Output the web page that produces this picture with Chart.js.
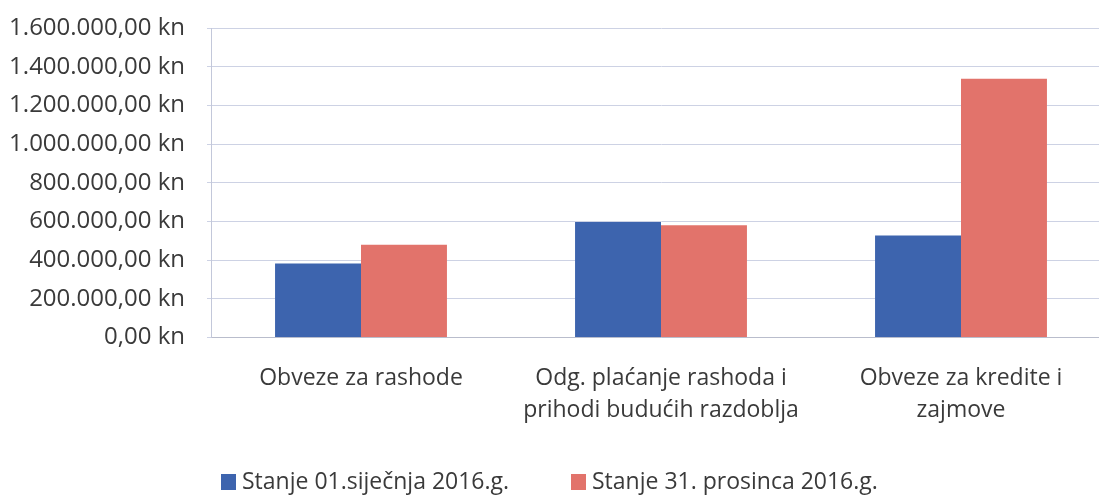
<!DOCTYPE html>
<html>
<head>
<meta charset="utf-8">
<script src="https://cdn.jsdelivr.net/npm/chart.js@4/dist/chart.umd.min.js"></script>
<style>
html,body{margin:0;padding:0;background:#fff;overflow:hidden;}
#wrap{width:1120px;height:495px;}
</style>
</head>
<body>
<div id="wrap"><canvas id="c" width="1120" height="495"></canvas></div>
<script>
const categories = ["Obveze za rashode", ["Odg. plaćanje rashoda i", "prihodi budućih razdoblja"], ["Obveze za kredite i", "zajmove"]];
const seriesNames = ["Stanje 01.siječnja 2016.g.", "Stanje 31. prosinca 2016.g."];
const stanjeSijecanj = [382000, 597000, 527000];
const stanjeProsinac = [480000, 580000, 1338000];
const yMin = 0, yMax = 1600000, yStep = 200000;

const FONT = "'Open Sans', 'DejaVu Sans', sans-serif";
const TXT = '#3a3a3a';
const colors = ['#3d64ae', '#e2736b'];

function fmt(v){
  const s = Math.round(v).toString().replace(/\B(?=(\d{3})+(?!\d))/g, '.');
  return s + ',00 kn';
}

const legendPlugin = {
  id: 'customLegend',
  afterDraw(chart){
    const ctx = chart.ctx;
    ctx.save();
    ctx.font = '23px ' + FONT;
    ctx.textBaseline = 'middle';
    const boxW = 15, boxH = 16, gapBox = 6;
    const starts = [221, 571];
    const y = 482;
    chart.data.datasets.forEach((d, i) => {
      const x = starts[i];
      ctx.fillStyle = d.backgroundColor;
      ctx.fillRect(x, y - boxH / 2, boxW, boxH);
      ctx.fillStyle = TXT;
      ctx.textAlign = 'left';
      ctx.fillText(d.label, x + boxW + gapBox, y);
    });
    ctx.restore();
  }
};

new Chart(document.getElementById('c'), {
  type: 'bar',
  data: {
    labels: categories,
    datasets: [
      {label: seriesNames[0], data: stanjeSijecanj, backgroundColor: colors[0], borderWidth: 0},
      {label: seriesNames[1], data: stanjeProsinac, backgroundColor: colors[1], borderWidth: 0}
    ]
  },
  options: {
    responsive: false,
    animation: false,
    devicePixelRatio: 1,
    layout: {padding: {left: 0, right: 9, top: 28, bottom: 57.5}},
    plugins: {legend: {display: false}, tooltip: {enabled: false}},
    datasets: {bar: {categoryPercentage: 0.573, barPercentage: 1}},
    scales: {
      x: {
        grid: {display: false, drawTicks: false},
        border: {display: true, color: '#b9bdcc', width: 1},
        ticks: {color: TXT, font: {family: FONT, size: 23, lineHeight: 1.38}, padding: 25, maxRotation: 0, autoSkip: false},
        afterFit(s){ s.height = 100; s.paddingLeft = 0; s.paddingRight = 0; }
      },
      y: {
        min: yMin, max: yMax,
        grid: {color: '#cdd2e4', lineWidth: 1, tickLength: 4, drawTicks: true},
        border: {display: true, color: '#c3c8da', width: 1},
        ticks: {stepSize: yStep, color: TXT, font: {family: FONT, size: 24}, padding: 22, callback: v => fmt(v)},
        afterFit(s){ s.width = 211; s.paddingTop = 0; s.paddingBottom = 0; }
      }
    }
  },
  plugins: [legendPlugin]
});
</script>
</body>
</html>
